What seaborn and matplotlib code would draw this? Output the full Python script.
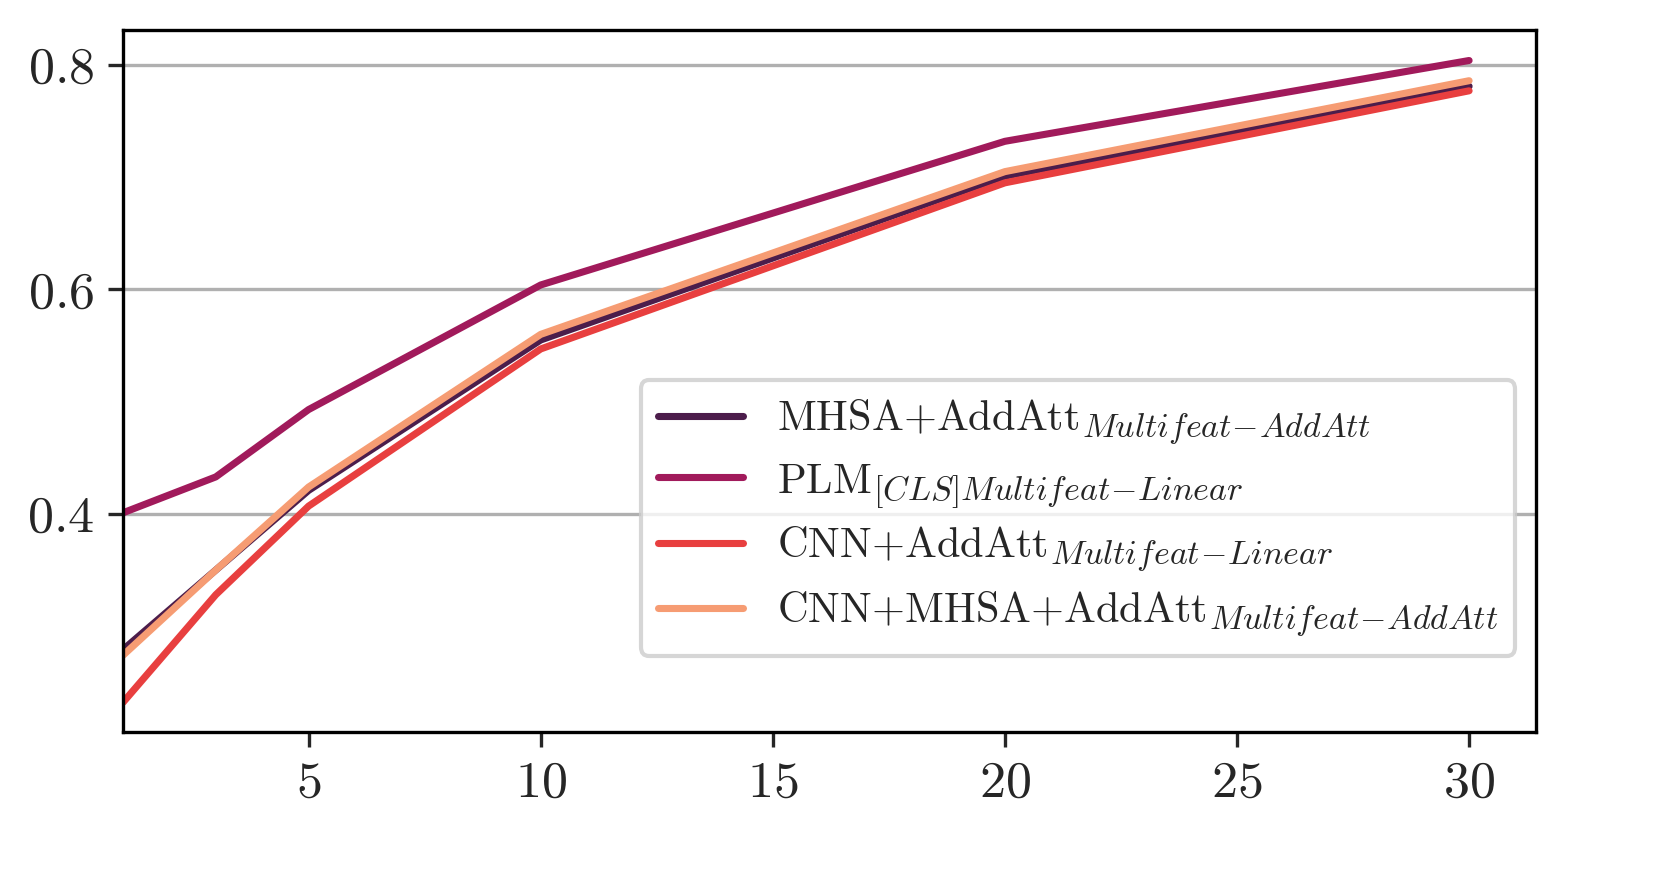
import pandas as pd
import seaborn as sns
import matplotlib.pyplot as plt
import matplotlib._mathtext as mathtext_internal

# values
k_values = [1, 3, 5, 10, 20, 30]
mhsa_addatt = [0.279, 0.350, 0.421, 0.555, 0.701, 0.781]
plm_cls = [0.401, 0.433, 0.493, 0.604, 0.732, 0.804]
cnn_addatt = [0.232, 0.328, 0.407, 0.547, 0.695, 0.777]
cnn_mhsa_addatt = [0.274, 0.350, 0.424, 0.560, 0.705, 0.786]

labels = [
    r"MHSA+AddAtt$_{Multifeat\!-\!AddAtt}$",
    r"PLM$_{[CLS]Multifeat\!-\!Linear}$",
    r"CNN+AddAtt$_{Multifeat\!-\!Linear}$",
    r"CNN+MHSA+AddAtt$_{Multifeat\!-\!AddAtt}$",
]
series = [mhsa_addatt, plm_cls, cnn_addatt, cnn_mhsa_addatt]

rows = []
for lab, vals in zip(labels, series):
    for k, v in zip(k_values, vals):
        rows.append({"k": k, "score": v, "model": lab})
df = pd.DataFrame(rows)

sns.set_style("ticks")
plt.rcParams["font.family"] = "serif"
plt.rcParams["font.serif"] = ["cmr10", "DejaVu Serif"]
plt.rcParams["mathtext.fontset"] = "cm"
plt.rcParams["axes.formatter.use_mathtext"] = True
plt.rcParams["font.size"] = 11
# LaTeX-looking subscripts are a bit larger than mathtext's default
mathtext_internal.SHRINK_FACTOR = 0.8

fig = plt.figure(figsize=(1661 / 300, 888 / 300), dpi=300)
ax = fig.add_axes([0.074, 0.176, 0.851, 0.790])

sns.lineplot(data=df, x="k", y="score", hue="model", hue_order=labels,
             palette=sns.color_palette("rocket", 4), linewidth=1.7, ax=ax)

ax.set_xlim(1, 31.45)
ax.set_ylim(0.206, 0.831)
ax.set_xticks([5, 10, 15, 20, 25, 30])
ax.set_yticks([0.4, 0.6, 0.8])
ax.yaxis.grid(True, color="#b0b0b0", linewidth=0.8)
ax.set_axisbelow(True)
ax.set_xlabel("")
ax.set_ylabel("")
ax.tick_params(labelsize=12.5, width=0.8, length=3.5)
for s in ax.spines.values():
    s.set_linewidth(0.8)
    s.set_color("black")

handles, labs = ax.get_legend_handles_labels()
ax.legend(handles, labs, loc="lower right", bbox_to_anchor=(0.985, 0.108),
          borderaxespad=0, fontsize=10.2, labelspacing=0.35, frameon=True,
          edgecolor="#cccccc", framealpha=0.8)

fig.savefig("out.png", dpi=300)
